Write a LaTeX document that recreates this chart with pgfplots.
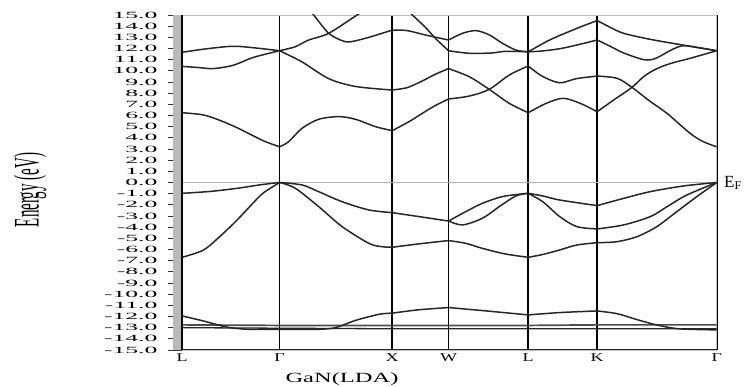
\documentclass[border=0pt]{standalone}
\usepackage{fontspec}
\setmainfont{Liberation Serif}
\usepackage{graphicx}
\usepackage{pgfplots}
\pgfplotsset{compat=1.18}
\pgfplotsset{band/.style={no markers, smooth, line width=1.5pt, black!85}}
\begin{document}
\begin{tikzpicture}
\begin{axis}[
  at={(0pt,0pt)}, anchor=south west,
  scale only axis, width=534.7pt, height=335pt,
  xmin=0, xmax=4.746, ymin=-15, ymax=15,
  clip=true,
  axis line style={gray!50, line width=0.7pt},
  tick align=outside, major tick length=14pt,
  xtick={0,0.866,1.866,2.366,3.073,3.685,4.746},
  xticklabels={\scalebox{1.5}[1]{L},\scalebox{1.5}[1]{Γ},\scalebox{1.5}[1]{X},\scalebox{1.5}[1]{W},\scalebox{1.5}[1]{L},\scalebox{1.5}[1]{K},\scalebox{1.5}[1]{Γ}},
  xticklabel style={font=\fontsize{12}{13}\selectfont, yshift=14pt},
  xtick style={draw=none},
  xmajorgrids, major x grid style={black, line width=1.7pt},
  ytick={-15,-14,...,15},
  ytick pos=left, xtick pos=bottom,
  ytick style={black!80, line width=0.7pt},
  yticklabel={\scalebox{2.7}[1]{\pgfmathprintnumber[fixed,fixed zerofill,precision=1,assume math mode=true]{\tick}}},
  yticklabel style={font=\fontsize{9.5}{10}\selectfont, xshift=-7pt},
]
% Fermi level
\addplot[no markers, gray!60, line width=0.7pt] coordinates {(0,0)(4.746,0)};
% d bands
\addplot[no markers, black!70, line width=1.7pt] coordinates {(0,-12.75)(0.866,-12.8)(1.866,-12.8)(2.366,-12.8)(3.073,-12.8)(3.685,-12.75)(4.746,-12.75)};
\addplot[no markers, black!85, line width=1.3pt] coordinates {(0,-13.0)(0.866,-13.05)(1.866,-13.1)(2.366,-13.1)(3.073,-13.1)(3.685,-13.1)(4.746,-13.1)};
% ---- L - Gamma
\addplot[band] coordinates {(0,6.25)(0.19,6.05)(0.34,5.55)(0.49,4.9)(0.72,3.75)(0.866,3.2)};
\addplot[band] coordinates {(0,10.4)(0.14,10.3)(0.278,10.2)(0.455,10.5)(0.633,11.2)(0.866,11.8)};
\addplot[band] coordinates {(0,11.66)(0.2,11.95)(0.45,12.2)(0.65,12.05)(0.866,11.8)};
\addplot[band] coordinates {(0,-0.97)(0.25,-0.8)(0.49,-0.52)(0.7,-0.2)(0.866,0)};
\addplot[band] coordinates {(0,-6.7)(0.19,-6.05)(0.34,-4.8)(0.49,-3.35)(0.63,-1.85)(0.72,-0.95)(0.866,0)};
\addplot[band] coordinates {(0,-11.95)(0.19,-12.4)(0.4,-12.95)(0.59,-13.15)(0.866,-13.15)};
% ---- Gamma - X
\addplot[band] coordinates {(0.866,3.2)(0.946,3.65)(1.065,4.85)(1.213,5.66)(1.391,5.9)(1.54,5.66)(1.718,5.0)(1.866,4.64)};
\addplot[band] coordinates {(0.866,11.8)(1.065,10.8)(1.302,9.3)(1.54,8.6)(1.866,8.28)};
\addplot[band] coordinates {(0.866,11.8)(1.006,12.16)(1.124,12.76)(1.302,13.36)(1.554,15)(1.65,15.6)};
\addplot[band] coordinates {(1.12,15.6)(1.169,15.0)(1.302,13.36)(1.421,12.7)(1.495,12.6)(1.659,13.0)(1.866,13.65)};
\addplot[band] coordinates {(0.866,0)(1.065,-0.22)(1.213,-0.82)(1.421,-1.72)(1.659,-2.46)(1.866,-2.7)};
\addplot[band] coordinates {(0.866,0)(1.006,-0.52)(1.213,-2.16)(1.421,-3.95)(1.659,-5.45)(1.777,-5.75)(1.866,-5.8)};
\addplot[band] coordinates {(0.866,-13.15)(1.2,-13.15)(1.362,-13.0)(1.54,-12.35)(1.75,-11.8)(1.866,-11.7)};
% ---- X - W
\addplot[band] coordinates {(1.866,4.64)(2.015,5.45)(2.134,6.2)(2.25,6.9)(2.366,7.48)};
\addplot[band] coordinates {(1.866,8.28)(2.0,8.5)(2.134,9.1)(2.25,9.7)(2.366,10.2)};
\addplot[band] coordinates {(1.866,13.65)(2.0,13.6)(2.164,13.2)(2.366,12.76)};
\addplot[band] coordinates {(1.98,15.6)(2.045,15)(2.16,13.9)(2.25,12.9)(2.366,11.8)};
\addplot[band] coordinates {(1.866,-2.7)(2.1,-3.05)(2.366,-3.45)};
\addplot[band] coordinates {(1.866,-5.8)(2.1,-5.5)(2.366,-5.2)};
\addplot[band] coordinates {(1.866,-11.7)(2.1,-11.4)(2.366,-11.2)};
% ---- W - L
\addplot[band] coordinates {(2.366,12.76)(2.49,13.36)(2.609,13.6)(2.727,13.22)(2.845,12.46)(2.964,11.86)(3.073,11.7)};
\addplot[band] coordinates {(2.366,11.8)(2.55,11.57)(2.75,11.6)(2.875,11.75)(3.073,11.7)};
\addplot[band] coordinates {(2.366,10.2)(2.55,9.47)(2.727,8.34)(2.904,7.09)(3.073,6.25)};
\addplot[band] coordinates {(2.366,7.48)(2.55,7.74)(2.727,8.34)(2.904,9.62)(3.073,10.43)};
\addplot[band] coordinates {(2.366,-3.45)(2.52,-2.6)(2.667,-1.86)(2.85,-1.25)(3.073,-0.97)};
\addplot[band] coordinates {(2.366,-3.45)(2.49,-3.8)(2.667,-3.2)(2.816,-2.16)(2.964,-1.2)(3.073,-0.97)};
\addplot[band] coordinates {(2.366,-5.2)(2.52,-5.45)(2.667,-5.9)(2.87,-6.4)(3.073,-6.7)};
\addplot[band] coordinates {(2.366,-11.2)(2.7,-11.5)(3.073,-11.86)};
% ---- L - K
\addplot[band] coordinates {(3.073,11.7)(3.263,12.76)(3.504,13.8)(3.685,14.5)};
\addplot[band] coordinates {(3.073,11.7)(3.2,11.78)(3.353,11.98)(3.5,12.3)(3.685,12.76)};
\addplot[band] coordinates {(3.073,10.43)(3.2,9.5)(3.353,8.93)(3.5,9.3)(3.685,9.53)};
\addplot[band] coordinates {(3.073,6.25)(3.233,7.09)(3.383,7.54)(3.534,7.09)(3.685,6.34)};
\addplot[band] coordinates {(3.073,-0.97)(3.2,-1.2)(3.353,-1.57)(3.685,-2.07)};
\addplot[band] coordinates {(3.073,-0.97)(3.202,-1.72)(3.353,-3.06)(3.504,-3.95)(3.685,-4.16)};
\addplot[band] coordinates {(3.073,-6.7)(3.2,-6.45)(3.353,-6.04)(3.504,-5.6)(3.685,-5.39)};
\addplot[band] coordinates {(3.073,-11.86)(3.35,-11.65)(3.685,-11.5)};
% ---- K - Gamma
\addplot[band] coordinates {(3.685,14.5)(3.8,13.9)(3.92,13.36)(4.156,12.82)(4.451,12.3)(4.6,12.05)(4.746,11.8)};
\addplot[band] coordinates {(3.685,12.76)(3.8,12.2)(3.92,11.6)(4.1,11.0)(4.2,11.1)(4.35,11.9)(4.45,12.25)(4.6,12.05)(4.746,11.8)};
\addplot[band] coordinates {(3.685,6.34)(3.832,7.39)(3.994,8.52)(4.1,9.5)(4.215,10.2)(4.35,10.7)(4.51,11.12)(4.746,11.8)};
\addplot[band] coordinates {(3.685,9.53)(3.862,9.33)(3.994,8.52)(4.15,7.3)(4.304,6.2)(4.51,4.4)(4.628,3.65)(4.746,3.2)};
\addplot[band] coordinates {(3.685,-2.07)(3.92,-1.42)(4.156,-0.82)(4.451,-0.31)(4.746,0)};
\addplot[band] coordinates {(3.685,-4.16)(3.92,-3.8)(4.156,-3.06)(4.3,-2.2)(4.451,-1.27)(4.6,-0.6)(4.746,0)};
\addplot[band] coordinates {(3.685,-5.39)(3.862,-5.3)(4.039,-4.85)(4.215,-3.95)(4.392,-2.61)(4.569,-1.27)(4.746,0)};
\addplot[band] coordinates {(3.685,-11.5)(3.862,-11.75)(4.039,-12.28)(4.215,-12.76)(4.41,-13.1)(4.746,-13.2)};
\end{axis}
% bottom axis line and gray bar at left
\draw[black!85, line width=1pt] (0pt,0pt) -- (534.7pt,0pt);
\fill[gray!55] (-9pt,0pt) rectangle (0pt,335pt);
\draw[black, line width=1.7pt] (0pt,0pt) -- (0pt,335pt);
% labels
\node[font=\fontsize{15}{17}\selectfont] at (-152pt,160pt) {\scalebox{2.4}[1]{\rotatebox{90}{Energy (eV)}}};
\node[font=\fontsize{14}{16}\selectfont] at (160pt,-29pt) {\scalebox{1.75}[1]{GaN(LDA)}};
\node[anchor=west, font=\fontsize{17}{19}\selectfont, inner sep=0pt] at (542pt,167pt) {E\textsubscript{F}};
\pgfresetboundingbox
\path[use as bounding box] (-182pt,-37pt) rectangle (569pt,350pt);
\end{tikzpicture}
\end{document}
